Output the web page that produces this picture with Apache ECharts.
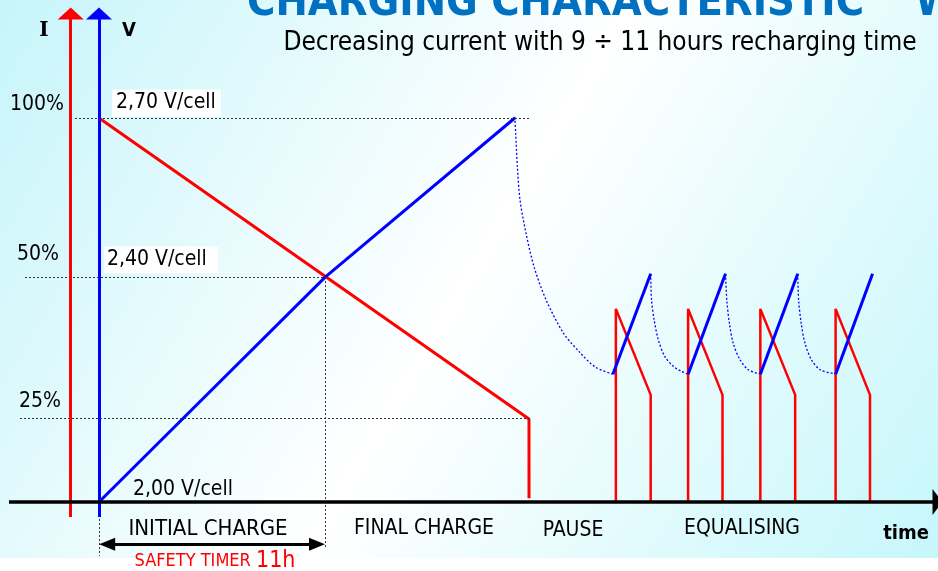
<!DOCTYPE html>
<html><head><meta charset="utf-8">
<script src="https://cdn.jsdelivr.net/npm/echarts@6/dist/echarts.min.js"></script>
<style>html,body{margin:0;padding:0;background:#fff}#c{width:938px;height:571px}</style>
</head><body><div id="c"></div>
<script>
// ---- data (time in hours, voltage in V/cell, current in % of start current) ----
const chargeTimeV = [0, 5.26, 9.67];
const chargeVolt  = [2.00, 2.41, 2.70];
const chargeTimeI = [0, 10.0, 10.0];
const chargeCurr  = [100, 21.6, 1.0];
const pauseTime = [9.67, 9.69, 9.73, 9.79, 9.93, 10.12, 10.40, 10.80, 11.19, 11.54, 11.95];
const pauseVolt = [2.702, 2.673, 2.611, 2.551, 2.490, 2.428, 2.368, 2.308, 2.272, 2.246, 2.233];
const eqCurrStart = [12.02, 13.70, 15.38, 17.13];
const eqCurrEnd   = [12.83, 14.50, 16.19, 17.93];
const eqCurrPeak = 50.3;
const eqCurrLow  = 27.9;
const eqVoltStart = [11.95, 13.70, 15.38, 17.13];
const eqVoltEnd   = [12.83, 14.57, 16.25, 17.99];
const eqVoltLow  = 2.233;
const eqVoltHigh = 2.416;
const restTime1 = [12.83, 12.85, 12.91, 13.01, 13.16, 13.36, 13.55, 13.70];
const restVolt1 = [2.416, 2.368, 2.332, 2.295, 2.265, 2.247, 2.238, 2.233];
const restTime2 = [14.57, 14.60, 14.66, 14.75, 14.91, 15.10, 15.38];
const restVolt2 = [2.416, 2.368, 2.326, 2.289, 2.259, 2.241, 2.233];
const restTime3 = [16.25, 16.27, 16.33, 16.42, 16.57, 16.77, 17.08, 17.13];
const restVolt3 = [2.416, 2.368, 2.326, 2.289, 2.259, 2.241, 2.234, 2.233];
// reference levels (V/cell) and their labels
const refLevels = [2.70, 2.41, 2.153];
const currTickLabels = ['100%', '50%', '25%'];
const voltTickLabels = ['2,70 V/cell', '2,40 V/cell', '2,00 V/cell'];
const phaseLabels = ['INITIAL CHARGE', 'FINAL CHARGE', 'PAUSE', 'EQUALISING'];
const initialChargeEnd = 5.26;
const finalChargeEnd = 10.02;

// ---- layout ----
const F = "'DejaVu Sans Condensed', 'Liberation Sans', sans-serif";
const zip = (a, b) => a.map((v, i) => [v, b[i]]);
const RED = '#ff0000', BLUE = '#0000ff';

const series = [];
const dot = { color: '#333', width: 1, type: [2, 2] };
series.push({
  type: 'line', data: [], xAxisIndex: 0, yAxisIndex: 0, silent: true,
  markLine: {
    silent: true, animation: false, symbol: 'none', label: { show: false },
    data: [
      [{ coord: [-0.558, refLevels[0]], lineStyle: dot }, { coord: [finalChargeEnd, refLevels[0]] }],
      [{ coord: [-1.721, refLevels[1]], lineStyle: dot }, { coord: [initialChargeEnd, refLevels[1]] }],
      [{ coord: [-1.837, refLevels[2]], lineStyle: dot }, { coord: [finalChargeEnd, refLevels[2]] }],
      [{ coord: [initialChargeEnd, refLevels[1]], lineStyle: dot }, { coord: [initialChargeEnd, 1.916] }],
      [{ coord: [0, 1.991], lineStyle: dot }, { coord: [0, 1.902] }],
      // I axis (red)
      [{ coord: [-0.658, 1.9727], lineStyle: { color: RED, width: 3, type: 'solid' }, symbol: 'none' },
       { coord: [-0.658, 2.8905], symbol: 'triangle', symbolSize: [26, 12], itemStyle: { color: RED } }],
      // V axis (blue)
      [{ coord: [0, 1.9727], lineStyle: { color: BLUE, width: 3, type: 'solid' }, symbol: 'none' },
       { coord: [0, 2.8905], symbol: 'triangle', symbolSize: [26, 12], itemStyle: { color: BLUE } }],
      // time axis
      [{ coord: [-2.093, 2.0], lineStyle: { color: '#000', width: 3.5, type: 'solid' }, symbol: 'none' },
       { coord: [19.50, 2.0], symbol: 'triangle', symbolSize: [26, 10], itemStyle: { color: '#000' } }],
      // safety timer double arrow
      [{ coord: [0.19, 1.923], lineStyle: { color: '#000', width: 3, type: 'solid' }, symbol: 'triangle', symbolSize: [13, 16], itemStyle: { color: '#000' } },
       { coord: [initialChargeEnd - 0.19, 1.923], symbol: 'triangle', symbolSize: [13, 16], itemStyle: { color: '#000' } }]
    ]
  }
});

const solid = (color) => ({ color: color, width: 3 });
const dotted = { color: BLUE, width: 1.3, type: [2, 2] };

series.push({ type: 'line', yAxisIndex: 1, data: zip(chargeTimeI, chargeCurr), symbol: 'none', lineStyle: solid(RED), silent: true });
series.push({ type: 'line', yAxisIndex: 0, data: zip(chargeTimeV, chargeVolt), symbol: 'none', lineStyle: solid(BLUE), silent: true });
series.push({ type: 'line', yAxisIndex: 0, data: zip(pauseTime, pauseVolt), symbol: 'none', smooth: 0.3, lineStyle: dotted, silent: true });
[[restTime1, restVolt1], [restTime2, restVolt2], [restTime3, restVolt3]].forEach(([t, v]) => {
  series.push({ type: 'line', yAxisIndex: 0, data: zip(t, v), symbol: 'none', smooth: 0.3, lineStyle: dotted, silent: true });
});
eqCurrStart.forEach((s, i) => {
  const e = eqCurrEnd[i];
  series.push({ type: 'line', yAxisIndex: 1, data: [[s, 0], [s, eqCurrPeak], [e, eqCurrLow], [e, 0]], symbol: 'none', lineStyle: { color: RED, width: 2.5 }, silent: true });
});
eqVoltStart.forEach((s, i) => {
  series.push({ type: 'line', yAxisIndex: 0, data: [[s, eqVoltLow], [eqVoltEnd[i], eqVoltHigh]], symbol: 'none', lineStyle: solid(BLUE), silent: true });
});

function txt(text, x, y, size, opts) {
  opts = opts || {};
  return {
    type: 'text', x: x, y: y, z: 50, silent: true,
    style: Object.assign({
      text: text, fontSize: size, fontFamily: F, fill: '#000',
      textAlign: opts.align || 'center', textVerticalAlign: 'middle',
      align: opts.align || 'center', verticalAlign: 'middle'
    }, opts.style || {})
  };
}

const graphics = [
  { type: 'rect', z: -100, silent: true, shape: { x: 0, y: 0, width: 938, height: 558 },
    style: { fill: { type: 'linear', x: 0, y: 0, x2: 1, y2: 1, colorStops: [
      { offset: 0, color: '#c6f5fa' }, { offset: 0.5, color: '#ffffff' }, { offset: 1, color: '#c6f7fb' } ] } } },
  txt('CHARGING CHARACTERISTIC', 247, 4, 43, { align: 'left', style: { fontWeight: 'bold', fill: '#0070c0' } }),
  txt('W', 915, 4, 43, { align: 'left', style: { fontWeight: 'bold', fill: '#0070c0' } }),
  txt('Decreasing current with 9 ÷ 11 hours recharging time', 600, 43, 26),
  txt('I', 44, 31, 20, { style: { fontWeight: 'bold', fontFamily: "'DejaVu Serif', serif" } }),
  txt('V', 129, 31, 20, { style: { fontWeight: 'bold' } }),
  txt(currTickLabels[0], 37, 105, 21),
  txt(currTickLabels[1], 38, 255, 21),
  txt(currTickLabels[2], 40, 402, 21),
  txt(voltTickLabels[0], 112, 103, 21, { align: 'left', style: { backgroundColor: '#fff', padding: [3, 5, 3, 4] } }),
  txt(voltTickLabels[1], 104, 260, 21, { align: 'left', style: { backgroundColor: '#fff', padding: [3, 11, 3, 3] } }),
  txt(voltTickLabels[2], 183, 490, 21),
  txt(phaseLabels[0], 208, 529, 22),
  txt(phaseLabels[1], 424, 529, 21),
  txt(phaseLabels[2], 573, 531, 21),
  txt(phaseLabels[3], 742, 529, 21),
  txt('time', 906, 534, 20, { style: { fontWeight: 'bold' } }),
  { type: 'text', x: 215, y: 561, z: 50, silent: true,
    style: { text: '{a|SAFETY TIMER }{b|11h}', textAlign: 'center', textVerticalAlign: 'middle', align: 'center', verticalAlign: 'middle',
      rich: { a: { fontSize: 18, fontFamily: F, fill: RED, color: RED }, b: { fontSize: 23, fontFamily: F, fill: RED, color: RED } } } }
];

const chart = echarts.init(document.getElementById('c'));
chart.setOption({
  animation: false,
  backgroundColor: '#ffffff',
  grid: { left: 0, right: 0, top: 0, bottom: 0, containLabel: false },
  xAxis: { type: 'value', min: -2.3023, max: 19.5116, show: false },
  yAxis: [
    { type: 'value', min: 1.87422, max: 2.91510, show: false },
    { type: 'value', min: -17.969, max: 130.729, show: false }
  ],
  series: series,
  graphic: graphics
});
</script></body></html>
